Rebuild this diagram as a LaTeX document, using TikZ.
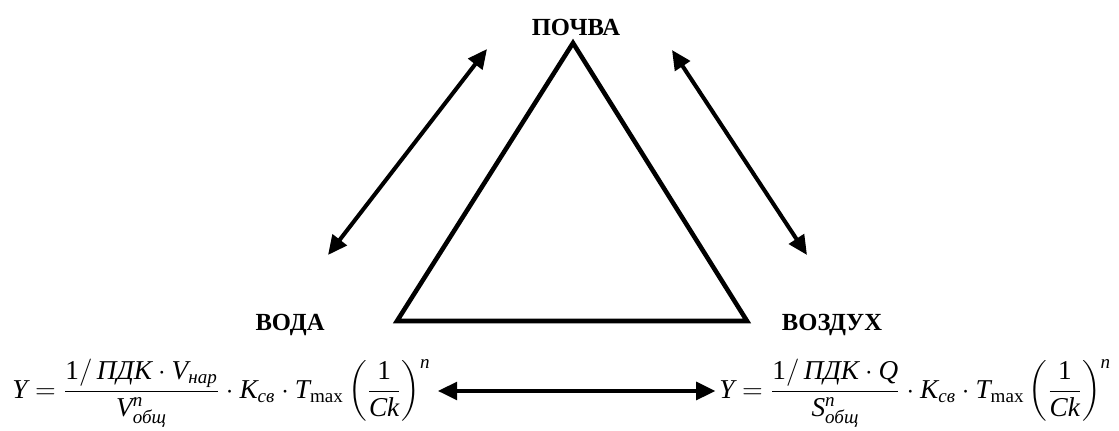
\documentclass[tikz,border=0pt]{standalone}
\usepackage{fix-cm}
\usepackage{amsmath}
\usepackage{fontspec}
\setmainfont{Liberation Serif}
\usepackage{tikz}
\usetikzlibrary{arrows.meta}

% italic letters of the formulas (Latin and Cyrillic)
\newcommand{\itl}[1]{\text{\itshape #1}}

\begin{document}
\begin{tikzpicture}[x=0.02cm, y=-0.02cm,
    link/.style={{Triangle[length=11pt,width=10pt]}-{Triangle[length=11pt,width=10pt]}, line width=2.3pt},
    medium/.style={font=\fontsize{14}{16}\selectfont\bfseries, inner sep=0pt},
    formula/.style={font=\fontsize{15.5}{18}\selectfont, inner sep=0pt, anchor=base west}]
    \useasboundingbox (0,0) rectangle (1119,430);

    % Triangle
    \draw[line width=2.6pt] (573,43) -- (747,321) -- (397,321) -- cycle;

    % Media
    \node[medium] (pochva) at (576,27) {ПОЧВА};
    \node[medium] (voda) at (290,325) {ВОДА};
    \node[medium] (vozduh) at (832,325) {ВОЗДУХ};

    % Exchange between media
    \coordinate (lb) at (328,255);
    \coordinate (lt) at (487,49);
    \coordinate (rt) at (672,50);
    \coordinate (rb) at (807,255);
    \draw[link] (lb) -- (lt);
    \draw[link] (rt) -- (rb);

    % Formulas
    \node[formula] (fw) at (12,398) {$\itl{Y} = \dfrac{\text{1}/\,\itl{ПДК}\cdot \itl{V}_{\itl{нар}}}{\itl{V}^{\itl{n}}_{\itl{общ}}}\cdot \itl{K}_{\itl{св}}\cdot \itl{T}_{\text{max}}\left(\dfrac{\text{1}}{\itl{Ck}}\right)^{\itl{n}}$};
    \node[formula] (fa) at (719,398) {$\itl{Y} = \dfrac{\text{1}/\,\itl{ПДК}\cdot \itl{Q}}{\itl{S}^{\itl{n}}_{\itl{общ}}}\cdot \itl{K}_{\itl{св}}\cdot \itl{T}_{\text{max}}\left(\dfrac{\text{1}}{\itl{Ck}}\right)^{\itl{n}}$};
    \draw[link] ([xshift=4pt,yshift=4pt]fw.base east) -- ([xshift=-2pt,yshift=4pt]fa.base west);
\end{tikzpicture}
\end{document}
